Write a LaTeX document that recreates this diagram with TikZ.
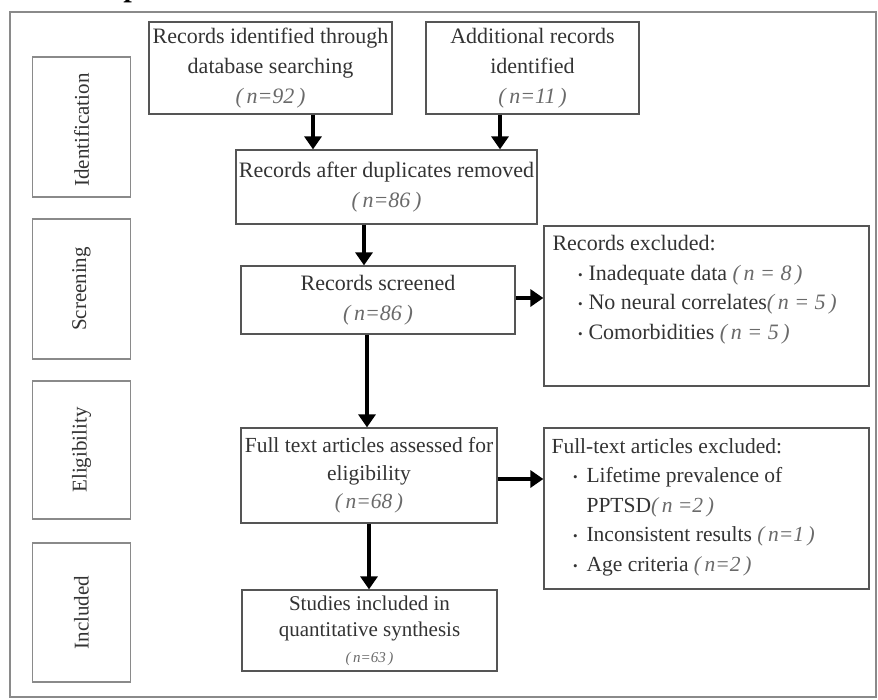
\documentclass[tikz,border=0pt]{standalone}
\usepackage{fontspec}
\setmainfont{Liberation Serif}
\usetikzlibrary{arrows.meta,calc}
\definecolor{txt}{HTML}{333333}
\definecolor{ntxt}{HTML}{6A6A6A}
\definecolor{edge}{HTML}{555555}
\definecolor{frame}{HTML}{8A8A8A}
\newcommand{\nn}[1]{{\color{ntxt}\itshape(\,#1\,)}}
\newcommand{\bul}{{\fontsize{13}{13}\selectfont\raisebox{1pt}{\textbullet}}}
\tikzset{
  flowbox/.style={draw=edge, line width=1.3pt, rectangle, align=center, text=txt, inner sep=1pt,
    font=\fontsize{22}{30}\selectfont},
  stagebox/.style={draw=frame, line width=1.3pt, rectangle, minimum width=98pt},
  stagetext/.style={rotate=90, text=txt, font=\fontsize{21}{23}\selectfont},
  listtext/.style={anchor=north west, align=left, text=txt, inner sep=0pt, font=\fontsize{22}{29.5}\selectfont},
  arr/.style={line width=3.6pt, -{Triangle[width=17pt,length=13pt]}}
}
\begin{document}
\begin{tikzpicture}[x=1pt,y=-1pt]
\useasboundingbox (0,0) rectangle (878,699);
\fill[white] (0,0) rectangle (878,699);
\begin{scope}
\clip (0,0) rectangle (878,699);
\node[anchor=base east, inner sep=0pt, font=\bfseries\itshape\fontsize{30}{30}\selectfont] (title) at (497,-4) {PTSD = post-traumatic stress disorder.};
\end{scope}
\draw[frame, line width=1.8pt] (10,12) rectangle (876,697);

% stage boxes
\node[stagebox, minimum height=140pt] (s1) at (81.5,127) {};
\node[stagetext] (s1t) at ($(s1.center)+(0,3)$) {Identification};
\node[stagebox, minimum height=140pt] (s2) at (81.5,289) {};
\node[stagetext] (s2t) at (s2.center) {Screening};
\node[stagebox, minimum height=138pt] (s3) at (81.5,450) {};
\node[stagetext] (s3t) at (s3.center) {Eligibility};
\node[stagebox, minimum height=139pt] (s4) at (81.5,612.5) {};
\node[stagetext] (s4t) at (s4.center) {Included};

% flow boxes
\node[flowbox, minimum width=243pt, minimum height=92pt] (A) at (270.5,68)
  {Records identified through\\database searching\\\nn{n=92}};
\node[flowbox, minimum width=213pt, minimum height=92pt] (B) at (532.5,68)
  {Additional records\\identified\\\nn{n=11}};
\node[flowbox, minimum width=301pt, minimum height=74pt] (C) at (386.5,187)
  {Records after duplicates removed\\\nn{n=86}};
\node[flowbox, minimum width=274pt, minimum height=68pt] (D) at (378,300)
  {Records screened\\\nn{n=86}};
\node[flowbox, minimum width=256pt, minimum height=95pt, font=\fontsize{21.5}{28}\selectfont] (F) at (369,475.5)
  {Full text articles assessed for\\eligibility\\\nn{n=68}};
\node[flowbox, minimum width=255pt, minimum height=81pt, font=\fontsize{21}{26}\selectfont] (G) at (369.5,630.5)
  {Studies included in\\quantitative synthesis\\{\fontsize{15}{15}\selectfont\nn{n=63}}};
\node[flowbox, minimum width=325pt, minimum height=160pt] (E) at (706.5,306) {};
\node[flowbox, minimum width=325pt, minimum height=161pt] (H) at (706.5,508.5) {};

\node[listtext] (Et) at ($(E.north west)+(9,10)$)
  {Records excluded:\\
   \hspace*{36pt}\llap{\bul\hspace{6pt}}Inadequate data \nn{n = 8}\\
   \hspace*{36pt}\llap{\bul\hspace{6pt}}No neural correlates\nn{n = 5}\\
   \hspace*{36pt}\llap{\bul\hspace{6pt}}Comorbidities \nn{n = 5}};
\node[listtext, font=\fontsize{21.5}{29.5}\selectfont] (Ht) at ($(H.north west)+(8,11)$)
  {Full-text articles excluded:\\
   \hspace*{35pt}\llap{\bul\hspace{9pt}}Lifetime prevalence of\\
   \hspace*{35pt}PPTSD\nn{n =2}\\
   \hspace*{35pt}\llap{\bul\hspace{9pt}}Inconsistent results \nn{n=1}\\
   \hspace*{35pt}\llap{\bul\hspace{9pt}}Age criteria \nn{n=2}};

% arrows
\coordinate (xa) at (313,0);
\coordinate (xb) at (500,0);
\coordinate (xc) at (364,0);
\coordinate (xd) at (367,0);
\coordinate (xf) at (369,0);
\coordinate (ye) at (0,298);
\coordinate (yh) at (0,479);
\draw[arr] (xa |- A.south) -- (xa |- C.north);
\draw[arr] (xb |- B.south) -- (xb |- C.north);
\draw[arr] (xc |- C.south) -- (xc |- D.north);
\draw[arr] (xd |- D.south) -- (xd |- F.north);
\draw[arr] (xf |- F.south) -- (xf |- G.north);
\draw[arr] (D.east |- ye) -- (E.west |- ye);
\draw[arr] (F.east |- yh) -- (H.west |- yh);
\end{tikzpicture}
\end{document}
